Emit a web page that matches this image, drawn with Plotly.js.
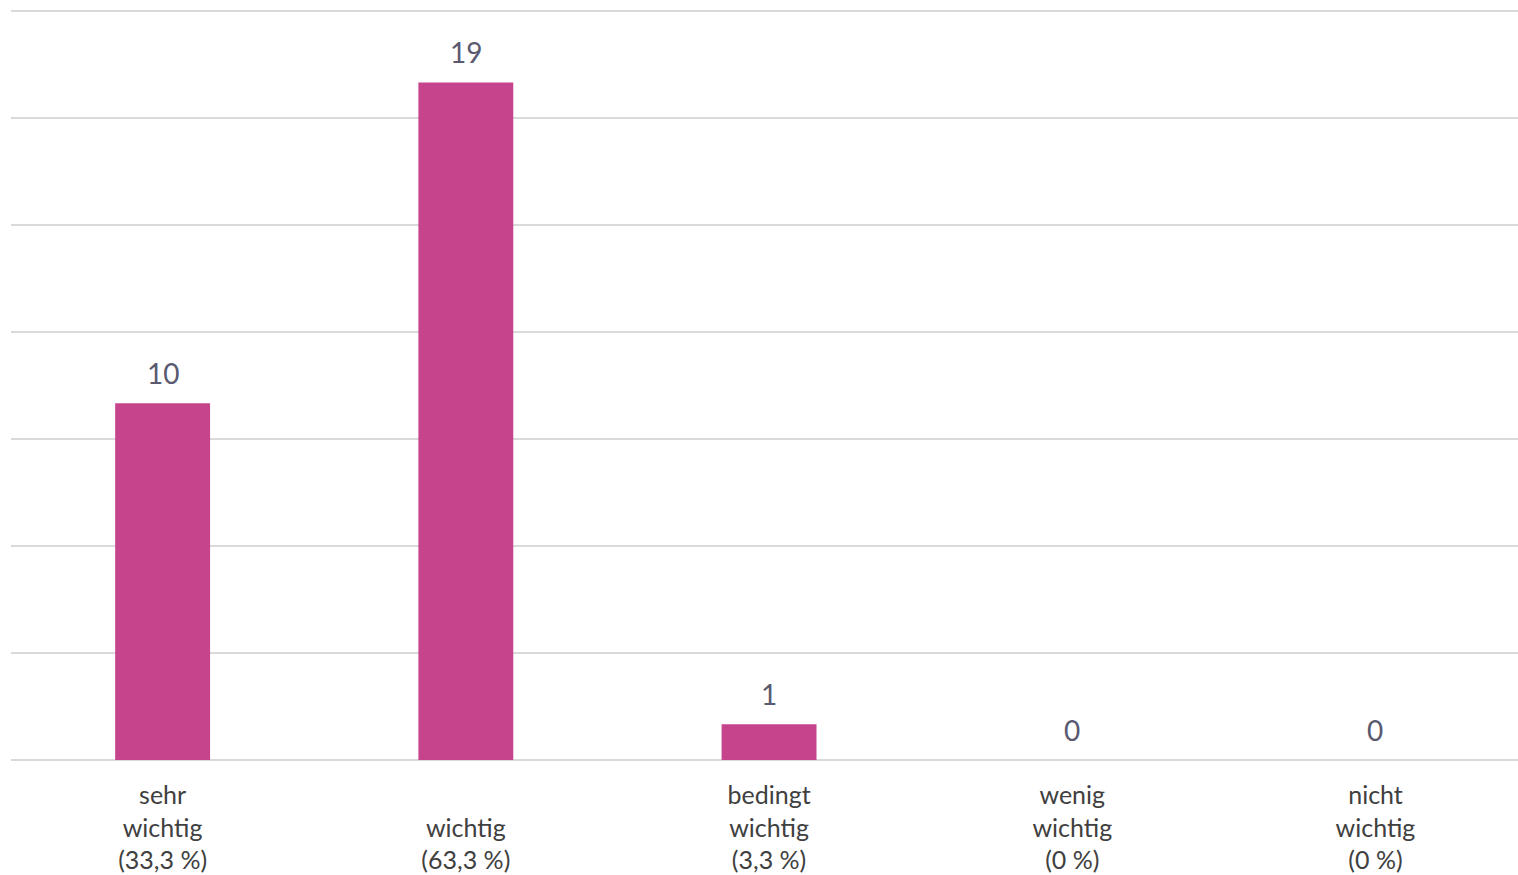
<!DOCTYPE html>
<html>
<head>
<meta charset="utf-8">
<script src="https://cdn.plot.ly/plotly-3.0.1.min.js"></script>
<style>html,body{margin:0;padding:0;background:#fff;}#chart{width:1518px;height:875px;}</style>
</head>
<body>
<div id="chart"></div>
<script>
const categories = ["sehr wichtig", "wichtig", "bedingt wichtig", "wenig wichtig", "nicht wichtig"];
const tickLabels = ["sehr<br>wichtig<br>(33,3 %)", " <br>wichtig<br>(63,3 %)", "bedingt<br>wichtig<br>(3,3 %)", "wenig<br>wichtig<br>(0 %)", "nicht<br>wichtig<br>(0 %)"];
const counts = [10, 19, 1, 0, 0];

const trace = {
  type: 'bar',
  x: categories,
  y: counts,
  marker: {color: '#C6448C'},
  hoverinfo: 'skip'
};

const annotations = categories.map((c, i) => ({
  x: c, y: counts[i], xref: 'x', yref: 'y',
  text: String(counts[i]), showarrow: false,
  yanchor: 'bottom', yshift: 11,
  font: {family: 'Lato, sans-serif', size: 28, color: '#595970'}
}));

const layout = {
  width: 1518, height: 875,
  margin: {l: 11, r: 0, t: 10, b: 115},
  paper_bgcolor: '#fff', plot_bgcolor: '#fff',
  bargap: 0.687,
  showlegend: false,
  font: {family: 'Lato, sans-serif', color: '#404040'},
  xaxis: {
    range: [-0.5, 4.47],
    tickvals: categories, ticktext: tickLabels,
    tickfont: {size: 25, color: '#404040'},
    ticklabelstandoff: 18,
    showgrid: false, zeroline: false, showline: false, ticks: '',
    fixedrange: true
  },
  yaxis: {
    range: [0, 21.03], dtick: 3, showticklabels: false,
    gridcolor: '#D9D9D9', gridwidth: 2,
    zeroline: true, zerolinecolor: '#D9D9D9', zerolinewidth: 2,
    fixedrange: true
  },
  annotations: annotations
};

Plotly.newPlot('chart', [trace], layout, {displayModeBar: false, staticPlot: true});
</script>
</body>
</html>
